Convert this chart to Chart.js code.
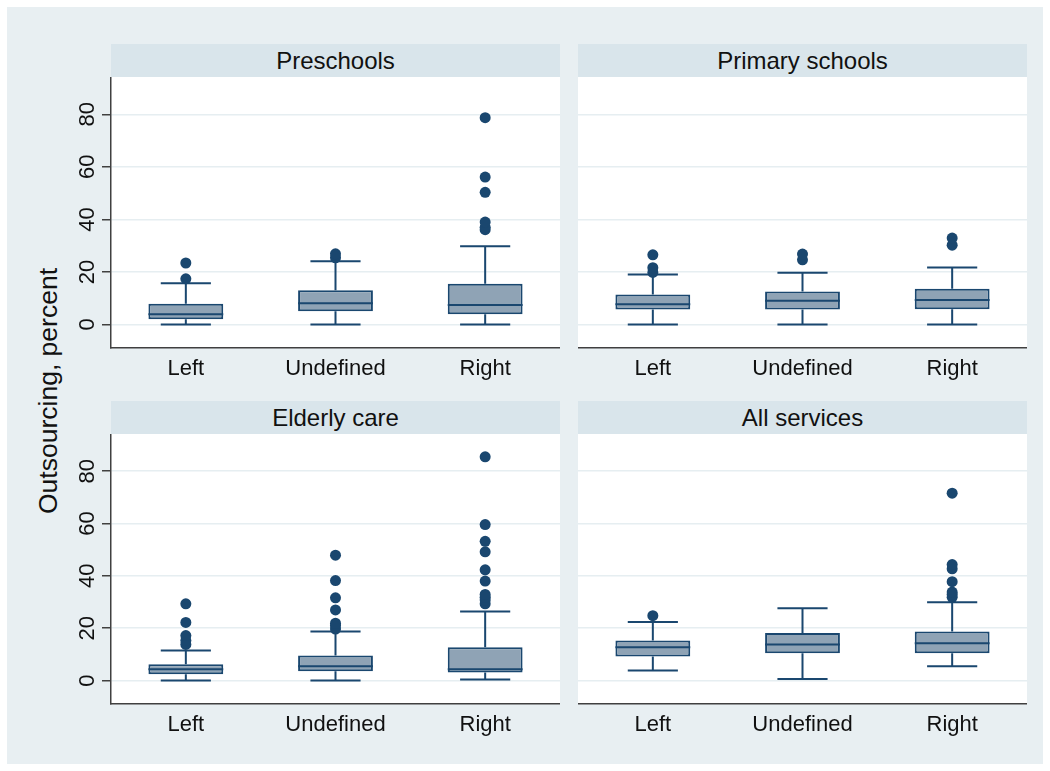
<!DOCTYPE html>
<html>
<head>
<meta charset="utf-8">
<script src="https://cdn.jsdelivr.net/npm/chart.js@4"></script>
<style>
body { margin: 0; background: #fff; font-family: "Liberation Sans", Arial, sans-serif; }
#frame { position: absolute; left: 7px; top: 7px; width: 1036px; height: 757px; background: #e8eff2; }
.strip { position: absolute; height: 33px; line-height: 33px; background: #d9e5eb; text-align: center; font-size: 24px; color: #111; }
.panel { position: absolute; }
#ytitle { position: absolute; left: 48px; top: 391px; transform: translate(-50%, -50%) rotate(-90deg); font-size: 26.5px; white-space: nowrap; color: #111; }
</style>
</head>
<body>
<div id="frame"></div>
<div class="strip" style="left:111px;top:44px;width:449px;">Preschools</div>
<div class="strip" style="left:578px;top:44px;width:449px;">Primary schools</div>
<div class="strip" style="left:111px;top:401px;width:449px;">Elderly care</div>
<div class="strip" style="left:578px;top:401px;width:449px;">All services</div>
<div id="ytitle">Outsourcing, percent</div>
<canvas id="c1" class="panel" width="520" height="313" style="left:40px;top:77px;"></canvas>
<canvas id="c2" class="panel" width="449" height="313" style="left:578px;top:77px;"></canvas>
<canvas id="c3" class="panel" width="520" height="312" style="left:40px;top:434px;"></canvas>
<canvas id="c4" class="panel" width="449" height="312" style="left:578px;top:434px;"></canvas>
<script>
const categories = ["Left", "Undefined", "Right"];
const yTicks = [0, 20, 40, 60, 80];
const yMin = -8.8;
const yMax = 94.2;

// each row: [lower whisker, q1, median, q3, upper whisker]
const preschoolsStats = [[0, 2.0, 3.9, 7.9, 15.7], [0, 5.0, 8.1, 13.0, 24.1], [0, 3.9, 7.4, 15.5, 29.8]];
const preschoolsOutliers = [[17.4, 23.4], [25.4, 26.9], [36.1, 37.0, 39.0, 50.3, 56.1, 78.7]];

const primaryStats = [[0, 5.7, 7.7, 11.4, 19.0], [0, 5.7, 9.0, 12.6, 19.7], [0, 5.8, 9.3, 13.6, 21.7]];
const primaryOutliers = [[19.8, 21.6, 26.5], [24.6, 26.8], [30.2, 32.9]];

const elderlyStats = [[0, 2.4, 4.3, 6.2, 11.5], [0, 3.6, 5.5, 9.6, 18.7], [0.4, 3.1, 4.3, 12.7, 26.4]];
const elderlyOutliers = [
  [13.8, 15.3, 17.2, 22.2, 29.3],
  [19.7, 21.0, 21.9, 27.0, 31.6, 38.2, 47.9],
  [29.3, 30.8, 31.8, 32.9, 38.0, 42.3, 49.2, 53.2, 59.6, 85.5]
];

const allStats = [[3.8, 9.2, 12.7, 15.3, 22.4], [0.6, 10.4, 13.8, 18.2, 27.6], [5.5, 10.4, 14.3, 18.7, 29.9]];
const allOutliers = [[24.8], [], [31.8, 32.9, 33.8, 37.8, 42.7, 44.3, 71.6]];

const navy = "#1a476f";
const boxFill = "#8fa3b5";
const axisColor = "#404040";
const gridColor = "#e6eef1";
const fontFamily = "'Liberation Sans', Arial, sans-serif";

// white plot region
const plotBg = {
  id: "plotBg",
  beforeDraw(chart) {
    const a = chart.chartArea, ctx = chart.ctx;
    ctx.save();
    ctx.fillStyle = "#fff";
    ctx.fillRect(a.left, a.top, a.right - a.left, a.bottom - a.top);
    ctx.restore();
  }
};

// whiskers, caps and median line
const boxWhiskers = {
  id: "boxWhiskers",
  afterDatasetsDraw(chart, args, opts) {
    const x = chart.scales.x, y = chart.scales.y, ctx = chart.ctx;
    const bars = chart.getDatasetMeta(0).data;
    ctx.save();
    ctx.strokeStyle = navy;
    ctx.lineWidth = 2;
    opts.stats.forEach((s, i) => {
      const cx = x.getPixelForValue(i);
      const half = bars[i].width / 2;
      const cap = half * 0.67;
      const [lo, q1, med, q3, hi] = s.map((v) => y.getPixelForValue(v));
      ctx.beginPath();
      ctx.moveTo(cx, q3); ctx.lineTo(cx, hi);
      ctx.moveTo(cx - cap, hi); ctx.lineTo(cx + cap, hi);
      ctx.moveTo(cx, q1); ctx.lineTo(cx, lo);
      ctx.moveTo(cx - cap, lo); ctx.lineTo(cx + cap, lo);
      ctx.moveTo(cx - half, med); ctx.lineTo(cx + half, med);
      ctx.stroke();
    });
    ctx.restore();
  }
};

// rotated y tick labels like the original
const yLabels = {
  id: "yLabels",
  afterDraw(chart, args, opts) {
    if (!opts.show) return;
    const y = chart.scales.y, ctx = chart.ctx, left = chart.chartArea.left;
    ctx.save();
    ctx.fillStyle = "#111";
    ctx.font = "22px " + fontFamily;
    ctx.textAlign = "center";
    ctx.textBaseline = "middle";
    y.ticks.forEach((t) => {
      ctx.save();
      ctx.translate(left - 23, y.getPixelForValue(t.value));
      ctx.rotate(-Math.PI / 2);
      ctx.fillText(String(t.value), 0, 0);
      ctx.restore();
    });
    ctx.restore();
  }
};

function makePanel(id, stats, outliers, showY) {
  let points = [];
  outliers.forEach((list, i) => {
    list.forEach((v) => points.push({ x: categories[i], y: v }));
  });

  return new Chart(document.getElementById(id), {
    type: "bar",
    data: {
      labels: categories,
      datasets: [
        {
          type: "bar",
          data: stats.map((s) => [s[1], s[3]]),
          backgroundColor: boxFill,
          borderColor: navy,
          borderWidth: 2,
          borderSkipped: false,
          barPercentage: 0.5,
          categoryPercentage: 1,
          order: 2
        },
        {
          type: "line",
          data: points,
          showLine: false,
          pointRadius: 5.5,
          pointBackgroundColor: navy,
          pointBorderColor: navy,
          pointBorderWidth: 0,
          order: 1
        }
      ]
    },
    options: {
      responsive: false,
      animation: false,
      events: [],
      layout: { autoPadding: false, padding: { left: showY ? 62 : 0, top: 0, right: 0, bottom: 0 } },
      plugins: {
        legend: { display: false },
        tooltip: { enabled: false },
        boxWhiskers: { stats: stats },
        yLabels: { show: showY }
      },
      scales: {
        x: {
          offset: true,
          grid: { display: false, drawTicks: false },
          border: { display: true, color: axisColor, width: 1.5 },
          ticks: { color: "#111", font: { family: fontFamily, size: 22 }, padding: 8 }
        },
        y: {
          min: yMin,
          max: yMax,
          afterBuildTicks: (scale) => {
            scale.ticks = yTicks.map((v) => ({ value: v }));
          },
          grid: {
            color: gridColor,
            lineWidth: 1.5,
            drawTicks: showY,
            tickLength: 9,
            tickColor: axisColor,
            tickWidth: 1.5
          },
          border: { display: showY, color: axisColor, width: 1.5 },
          ticks: { display: false }
        }
      }
    },
    plugins: [plotBg, boxWhiskers, yLabels]
  });
}

makePanel("c1", preschoolsStats, preschoolsOutliers, true);
makePanel("c2", primaryStats, primaryOutliers, false);
makePanel("c3", elderlyStats, elderlyOutliers, true);
makePanel("c4", allStats, allOutliers, false);
</script>
</body>
</html>
